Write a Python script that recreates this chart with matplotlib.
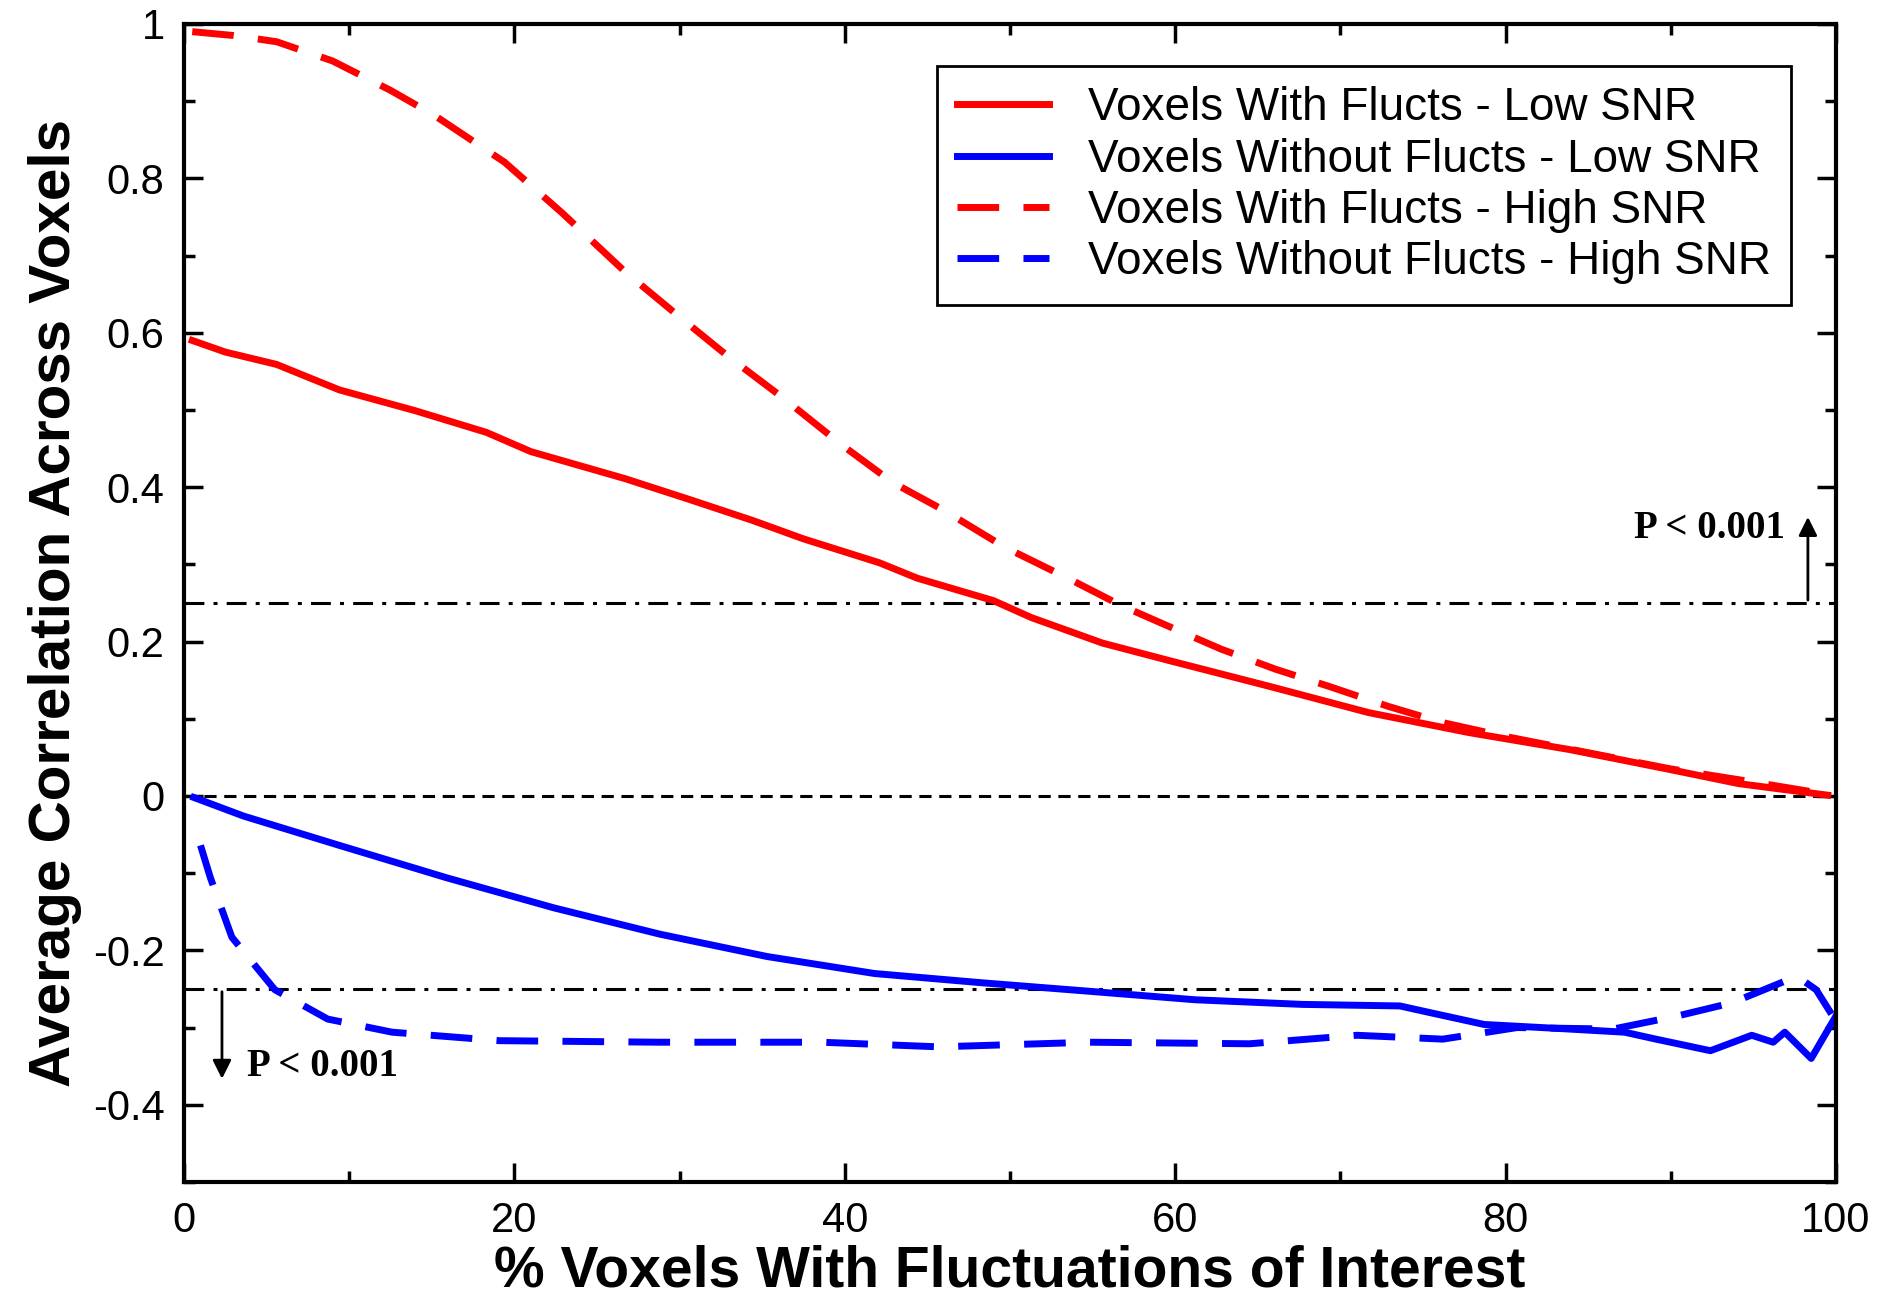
import matplotlib
matplotlib.use("Agg")
import matplotlib.pyplot as plt
from matplotlib.ticker import MultipleLocator

plt.rcParams['font.family'] = ['Liberation Sans', 'DejaVu Sans']

# values
x_with_low = [0.5, 2.5, 5.6, 9.4, 14.0, 18.3, 21.0, 26.7, 30.6, 34.4, 37.5, 42.1, 44.4,
              49.0, 51.3, 55.6, 59.7, 65.7, 71.7, 77.8, 83.9, 90.0, 94.1, 99.5]
y_with_low = [0.59, 0.575, 0.559, 0.526, 0.499, 0.471, 0.446, 0.411, 0.384, 0.357, 0.333,
              0.302, 0.282, 0.253, 0.231, 0.198, 0.175, 0.142, 0.108, 0.082, 0.06, 0.034,
              0.016, 0.001]

x_without_low = [0.6, 3.6, 9.4, 15.9, 22.4, 28.8, 35.3, 41.8, 48.3, 54.8, 61.2, 67.7, 73.6,
                 75.5, 78.7, 83.9, 87.2, 89.1, 92.4, 94.9, 96.2, 96.9, 98.5, 100.0]
y_without_low = [-0.002, -0.026, -0.064, -0.106, -0.145, -0.179, -0.208, -0.23, -0.242,
                 -0.253, -0.264, -0.27, -0.272, -0.281, -0.296, -0.302, -0.306, -0.315,
                 -0.33, -0.31, -0.319, -0.306, -0.34, -0.285]

x_with_high = [0.5, 3.0, 5.6, 9.0, 12.5, 15.2, 19.4, 22.9, 26.7, 29.8, 32.9, 36.3, 39.8,
               42.9, 46.0, 49.7, 53.6, 56.7, 60.0, 62.8, 66.1, 69.3, 72.9, 76.2, 80.0,
               85.0, 90.0, 95.0, 99.5]
y_with_high = [0.99, 0.985, 0.977, 0.952, 0.914, 0.881, 0.821, 0.755, 0.679, 0.624, 0.57,
               0.515, 0.455, 0.406, 0.37, 0.322, 0.281, 0.247, 0.216, 0.19, 0.164, 0.142,
               0.116, 0.095, 0.077, 0.056, 0.035, 0.018, 0.002]

x_without_high = [1.0, 1.6, 2.9, 5.5, 8.7, 12.6, 19.1, 28.8, 38.6, 45.7, 54.8, 64.5, 71.0,
                  76.2, 80.7, 86.5, 90.4, 93.7, 96.9, 97.8, 98.8, 99.8]
y_without_high = [-0.064, -0.106, -0.183, -0.251, -0.289, -0.306, -0.317, -0.319, -0.319,
                  -0.325, -0.319, -0.321, -0.31, -0.315, -0.30, -0.302, -0.285, -0.268,
                  -0.24, -0.236, -0.251, -0.285]

p_threshold = 0.25

fig = plt.figure(figsize=(18.85, 13.01), dpi=100)
ax = fig.add_axes([0.0976, 0.0915, 0.8764, 0.8901])

red = "#ff0000"
blue = "#0000ff"
lw = 5

ax.plot(x_with_low, y_with_low, color=red, lw=lw, label="Voxels With Flucts - Low SNR")
ax.plot(x_without_low, y_without_low, color=blue, lw=lw, label="Voxels Without Flucts - Low SNR")
ax.plot(x_with_high, y_with_high, color=red, lw=lw, dashes=(6, 3.5),
        label="Voxels With Flucts - High SNR")
ax.plot(x_without_high, y_without_high, color=blue, lw=lw, dashes=(6, 3.5),
        label="Voxels Without Flucts - High SNR")

# reference lines
ax.axhline(0, color="black", lw=2.2, dashes=(4, 2.5), zorder=1)
ax.axhline(p_threshold, color="black", lw=2.2, dashes=(6.5, 3, 1.3, 3), zorder=1)
ax.axhline(-p_threshold, color="black", lw=2.2, dashes=(6.5, 3, 1.3, 3), zorder=1)

# significance arrows
ax.annotate("", xy=(98.3, 0.365), xytext=(98.3, p_threshold),
            arrowprops=dict(arrowstyle="-|>", color="black", lw=2, mutation_scale=28))
ax.text(96.9, 0.347, "P < 0.001", ha="right", va="center", fontsize=28,
        fontweight="bold", family="Liberation Serif")
ax.annotate("", xy=(2.3, -0.37), xytext=(2.3, -p_threshold),
            arrowprops=dict(arrowstyle="-|>", color="black", lw=2, mutation_scale=28))
ax.text(3.8, -0.35, "P < 0.001", ha="left", va="center", fontsize=28,
        fontweight="bold", family="Liberation Serif")

ax.set_xlim(0, 100)
ax.set_ylim(-0.5, 1.0)
ax.xaxis.set_minor_locator(MultipleLocator(10))
ax.yaxis.set_minor_locator(MultipleLocator(0.1))
ax.set_yticks([-0.4, -0.2, 0, 0.2, 0.4, 0.6, 0.8, 1.0])
ax.set_yticklabels(["-0.4", "-0.2", "0", "0.2", "0.4", "0.6", "0.8", "1"])
ax.set_xticks([0, 20, 40, 60, 80, 100])
ax.set_xticklabels(["0", "20", "40", "60", "80", "100"])

ax.tick_params(which="both", direction="in", top=True, right=True, width=2.5,
               labelsize=30, pad=14)
ax.tick_params(which="major", length=14)
ax.tick_params(which="minor", length=8)
for s in ax.spines.values():
    s.set_linewidth(3)

ax.set_xlabel("% Voxels With Fluctuations of Interest", fontsize=41, fontweight="bold",
              labelpad=2)
ax.set_ylabel("Average Correlation Across Voxels", fontsize=42, fontweight="bold",
              labelpad=8)

leg = ax.legend(loc="upper right", bbox_to_anchor=(0.973, 0.964), borderaxespad=0,
                fontsize=33, handlelength=2.0, fancybox=False, framealpha=1,
                edgecolor="black", labelspacing=0.16, handletextpad=0.85, borderpad=0.45)
leg.get_frame().set_linewidth(2)

fig.savefig("out.png", dpi=100)
